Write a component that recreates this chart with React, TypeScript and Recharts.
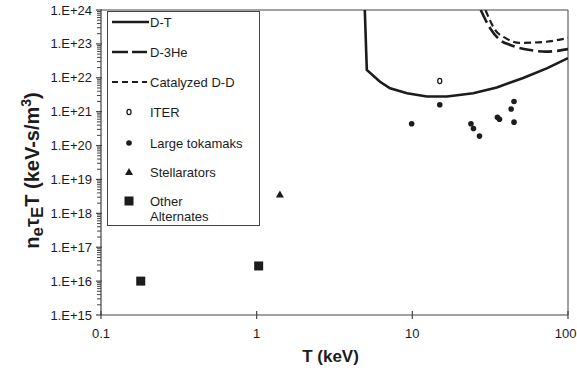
import React from "react";
import {
  ComposedChart,
  Line,
  Scatter,
  XAxis,
  YAxis,
  Legend,
  ReferenceLine,
  Label,
} from "recharts";

// axis ticks
const xTicks = [0.1, 1, 10, 100];
const yTicks = [1e15, 1e16, 1e17, 1e18, 1e19, 1e20, 1e21, 1e22, 1e23, 1e24];
const yMinor = yTicks
  .slice(0, -1)
  .flatMap((d) => [2, 3, 4, 5, 6, 7, 8, 9].map((k) => k * d));

// ignition curves (T in keV, n tau T)
const dtT = [4.95, 5.1, 6.2, 7.2, 9.25, 12.4, 16.7, 24.6, 34.9, 51.5, 73, 100];
const dtNT = [1e24, 1.7e22, 7.6e21, 4.9e21, 3.5e21, 2.8e21, 2.8e21, 3.5e21, 5.2e21, 9.8e21, 1.9e22, 3.8e22];
const dheT = [27.5, 31.6, 36.6, 42.5, 57, 72, 100];
const dheNT = [1e24, 2.9e23, 1.3e23, 9.3e22, 6.6e22, 5.9e22, 7e22];
const catT = [29.5, 34, 39.5, 49, 71, 100];
const catNT = [1e24, 2.6e23, 1.5e23, 1.07e23, 1.15e23, 1.5e23];

// experiments
const iterT = [15];
const iterNT = [8e21];
const tokT = [15, 9.9, 23.8, 24.7, 27, 35.2, 36.3, 45, 43.1, 45];
const tokNT = [1.6e21, 4.4e20, 4.4e20, 3.2e20, 1.9e20, 6.8e20, 6.0e20, 2.0e21, 1.2e21, 4.9e20];
const stelT = [1.41];
const stelNT = [3.6e18];
const altT = [0.18, 1.03];
const altNT = [1e16, 2.8e16];

const zip = (xs: number[], ys: number[]) => xs.map((x, i) => ({ x, y: ys[i] }));

const INK = "#1c1c1c";
const AXIS = "#444";
const FONT = "'Liberation Sans', Arial, sans-serif";

const isDecade = (v: number) => Math.abs(Math.log10(v) - Math.round(Math.log10(v))) < 1e-6;

const YTick = (props: any) => {
  const { x, y, payload } = props;
  const v = payload.value;
  if (!isDecade(v)) {
    return <line x1={x - 4} x2={x} y1={y} y2={y} stroke={AXIS} strokeWidth={1} />;
  }
  const e = Math.round(Math.log10(v));
  return (
    <g>
      <line x1={x - 5} x2={x + 1} y1={y} y2={y} stroke={AXIS} strokeWidth={1.2} />
      <text x={x - 9} y={y + 4.5} textAnchor="end" fontSize={13} fill={INK} fontFamily={FONT}>
        {`1.E+${e}`}
      </text>
    </g>
  );
};

const XTick = (props: any) => {
  const { x, y, payload } = props;
  const last = payload.value === xTicks[xTicks.length - 1];
  return (
    <g>
      <line x1={x} x2={x} y1={y - 4} y2={y + 4} stroke={AXIS} strokeWidth={1.2} />
      <text
        x={last ? x + 8.5 : x}
        y={y + 23}
        textAnchor={last ? "end" : "middle"}
        fontSize={13}
        fill={INK}
        fontFamily={FONT}
      >
        {String(payload.value)}
      </text>
    </g>
  );
};

const Dot = (p: any) => <circle cx={p.cx} cy={p.cy} r={2.8} fill={INK} />;
const Open = (p: any) => (
  <ellipse cx={p.cx} cy={p.cy} rx={2} ry={2.6} fill="#fff" stroke={INK} strokeWidth={1.3} />
);
const Tri = (p: any) => (
  <path d={`M${p.cx},${p.cy - 4}L${p.cx + 4},${p.cy + 3}L${p.cx - 4},${p.cy + 3}Z`} fill={INK} />
);
const Sq = (p: any) => <rect x={p.cx - 4.5} y={p.cy - 4.5} width={9} height={9} fill={INK} />;

const LegendBox = () => {
  const tx = 43;
  return (
    <svg width={153} height={215} style={{ display: "block" }}>
      <rect x={0.5} y={0.5} width={152} height={214} fill="#fff" stroke={AXIS} strokeWidth={1} />
      <g fontFamily={FONT} fontSize={13} fill={INK}>
        <line x1={5} x2={42} y1={11} y2={11} stroke={INK} strokeWidth={2.6} />
        <text x={tx} y={15.5}>D-T</text>
        <line x1={5} x2={40} y1={41} y2={41} stroke={INK} strokeWidth={2.6} strokeDasharray="16 4" />
        <text x={tx} y={45.5}>D-3He</text>
        <line x1={5} x2={40} y1={71} y2={71} stroke={INK} strokeWidth={2.2} strokeDasharray="6 4" />
        <text x={tx} y={75.5}>Catalyzed D-D</text>
        <Open cx={22} cy={101} />
        <text x={tx} y={105.5}>ITER</text>
        <Dot cx={22} cy={132} />
        <text x={tx} y={136.5}>Large tokamaks</text>
        <Tri cx={22} cy={161} />
        <text x={tx} y={165.5}>Stellarators</text>
        <Sq cx={22} cy={190} />
        <text x={tx} y={194.5}>Other</text>
        <text x={tx} y={210}>Alternates</text>
      </g>
    </svg>
  );
};

const YTitle = (props: any) => {
  const vb = props.viewBox || { x: 11, y: 10, width: 90, height: 305 };
  const cx = 39;
  const cy = vb.y + vb.height / 2 + 8;
  return (
    <text
      x={cx}
      y={cy}
      transform={`rotate(-90, ${cx}, ${cy})`}
      textAnchor="middle"
      fontFamily={FONT}
      fontWeight="bold"
      fontSize={20}
      fill={INK}
    >
      n<tspan dy={4} fontSize={17}>e</tspan>
      <tspan dy={-4}>τ</tspan>
      <tspan dy={4} fontSize={17}>E</tspan>
      <tspan dy={-4}>T (keV-s/m</tspan>
      <tspan dy={-8} fontSize={14}>3</tspan>
      <tspan dy={8}>)</tspan>
    </text>
  );
};

export default function App() {
  return (
    <div style={{ position: "absolute", left: 0, top: 0, background: "#fff" }}>
      <ComposedChart
        width={577}
        height={373}
        margin={{ top: 10, right: 9, bottom: 8, left: 11 }}
      >
        <XAxis
          dataKey="x"
          type="number"
          scale="log"
          domain={[0.1, 100]}
          ticks={xTicks}
          interval={0}
          allowDataOverflow
          height={50}
          tickSize={0}
          tickMargin={0}
          tickLine={false}
          tick={<XTick />}
          axisLine={{ stroke: AXIS, strokeWidth: 1.2 }}
        >
          <Label
            value="T (keV)"
            position="insideBottom"
            offset={3}
            dx={-4}
            style={{ fontFamily: FONT, fontWeight: "bold", fontSize: 17, fill: INK }}
          />
        </XAxis>
        <YAxis
          dataKey="y"
          type="number"
          scale="log"
          domain={[1e15, 1e24]}
          ticks={[...yTicks, ...yMinor].sort((a, b) => a - b)}
          interval={0}
          allowDataOverflow
          width={90}
          tickSize={0}
          tickMargin={0}
          tickLine={false}
          tick={<YTick />}
          axisLine={{ stroke: AXIS, strokeWidth: 1.2 }}
        >
          <Label content={<YTitle />} />
        </YAxis>
        <ReferenceLine y={1e24} stroke={AXIS} strokeWidth={1} />
        <ReferenceLine x={100} stroke={AXIS} strokeWidth={1} />
        <Line
          name="D-T"
          data={zip(dtT, dtNT)}
          dataKey="y"
          type="linear"
          stroke={INK}
          strokeWidth={2.6}
          dot={false}
          activeDot={false}
          isAnimationActive={false}
        />
        <Line
          name="D-3He"
          data={zip(dheT, dheNT)}
          dataKey="y"
          type="monotone"
          stroke={INK}
          strokeWidth={2.6}
          strokeDasharray="14 5"
          dot={false}
          activeDot={false}
          isAnimationActive={false}
        />
        <Line
          name="Catalyzed D-D"
          data={zip(catT, catNT)}
          dataKey="y"
          type="monotone"
          stroke={INK}
          strokeWidth={2.2}
          strokeDasharray="7 4"
          dot={false}
          activeDot={false}
          isAnimationActive={false}
        />
        <Scatter name="ITER" data={zip(iterT, iterNT)} shape={<Open />} isAnimationActive={false} />
        <Scatter name="Large tokamaks" data={zip(tokT, tokNT)} shape={<Dot />} isAnimationActive={false} />
        <Scatter name="Stellarators" data={zip(stelT, stelNT)} shape={<Tri />} isAnimationActive={false} />
        <Scatter name="Other Alternates" data={zip(altT, altNT)} shape={<Sq />} isAnimationActive={false} />
        <Legend
          layout="vertical"
          align="center"
          verticalAlign="middle"
          content={<LegendBox />}
          wrapperStyle={{ left: 107, top: 11, width: 153, height: 215 }}
        />
      </ComposedChart>
    </div>
  );
}
